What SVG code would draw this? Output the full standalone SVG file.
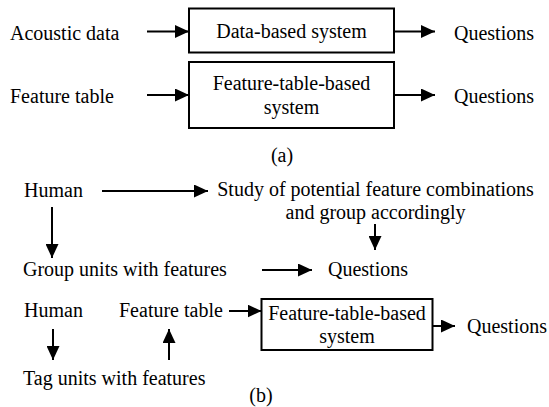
<svg xmlns="http://www.w3.org/2000/svg" width="549" height="407" viewBox="0 0 549 407">
<style>
.c{text-anchor:middle}
.box{fill:#fff;stroke:#000;stroke-width:2}
.ln{stroke:#000;stroke-width:2;fill:none;marker-end:url(#ah)}
</style>
<defs>
<marker id="ah" markerUnits="userSpaceOnUse" markerWidth="14" markerHeight="13" refX="14" refY="6.5" orient="auto">
<path d="M0,0 L14,6.5 L0,13 Z" fill="#000"/>
</marker>
</defs>
<rect width="549" height="407" fill="#fff"/>
<g id="connectors">
<line class="ln" x1="147" y1="31.5" x2="189" y2="31.5"/>
<line class="ln" x1="394" y1="31.5" x2="435" y2="31.5"/>
<line class="ln" x1="147" y1="95" x2="189" y2="95"/>
<line class="ln" x1="394" y1="95" x2="435" y2="95"/>
<line class="ln" x1="102" y1="191" x2="208" y2="191"/>
<line class="ln" x1="52" y1="207" x2="52" y2="258"/>
<line class="ln" x1="375" y1="224" x2="375" y2="250"/>
<line class="ln" x1="262" y1="270" x2="312" y2="270"/>
<line class="ln" x1="229" y1="311" x2="261.5" y2="311"/>
<line class="ln" x1="432.5" y1="326" x2="455" y2="326"/>
<line class="ln" x1="53" y1="329" x2="53" y2="360"/>
<line class="ln" x1="169" y1="360" x2="169" y2="329"/>
</g>
<g font-family="'Times New Roman', 'Liberation Serif', serif" font-size="20" fill="#000">
<g id="acoustic"><text x="10" y="40">Acoustic data</text></g>
<g id="databased"><rect class="box" x="189" y="8.5" width="205" height="44"/><text class="c" x="291.5" y="38">Data-based system</text></g>
<g id="q1"><text x="454" y="40">Questions</text></g>
<g id="ftable1"><text x="10" y="103">Feature table</text></g>
<g id="ftbased1"><rect class="box" x="189" y="62" width="205" height="66"/><text class="c" x="291.5" y="90">Feature-table-based</text><text class="c" x="291.5" y="114">system</text></g>
<g id="q2"><text x="454" y="103">Questions</text></g>
<g id="label-a"><text class="c" x="282" y="162">(a)</text></g>
<g id="human1"><text x="24" y="197">Human</text></g>
<g id="study"><text class="c" x="375.5" y="196">Study of potential feature combinations</text><text class="c" x="375.5" y="219">and group accordingly</text></g>
<g id="group"><text x="23" y="276">Group units with features</text></g>
<g id="q3"><text x="328" y="276">Questions</text></g>
<g id="human2"><text x="24" y="317">Human</text></g>
<g id="ftable2"><text x="119" y="317">Feature table</text></g>
<g id="ftbased2"><rect class="box" x="261.5" y="299" width="171" height="51"/><text class="c" x="347" y="320">Feature-table-based</text><text class="c" x="347" y="343">system</text></g>
<g id="q4"><text x="467" y="333">Questions</text></g>
<g id="tag"><text x="23" y="385">Tag units with features</text></g>
<g id="label-b"><text class="c" x="261" y="402">(b)</text></g>
</g>
</svg>
